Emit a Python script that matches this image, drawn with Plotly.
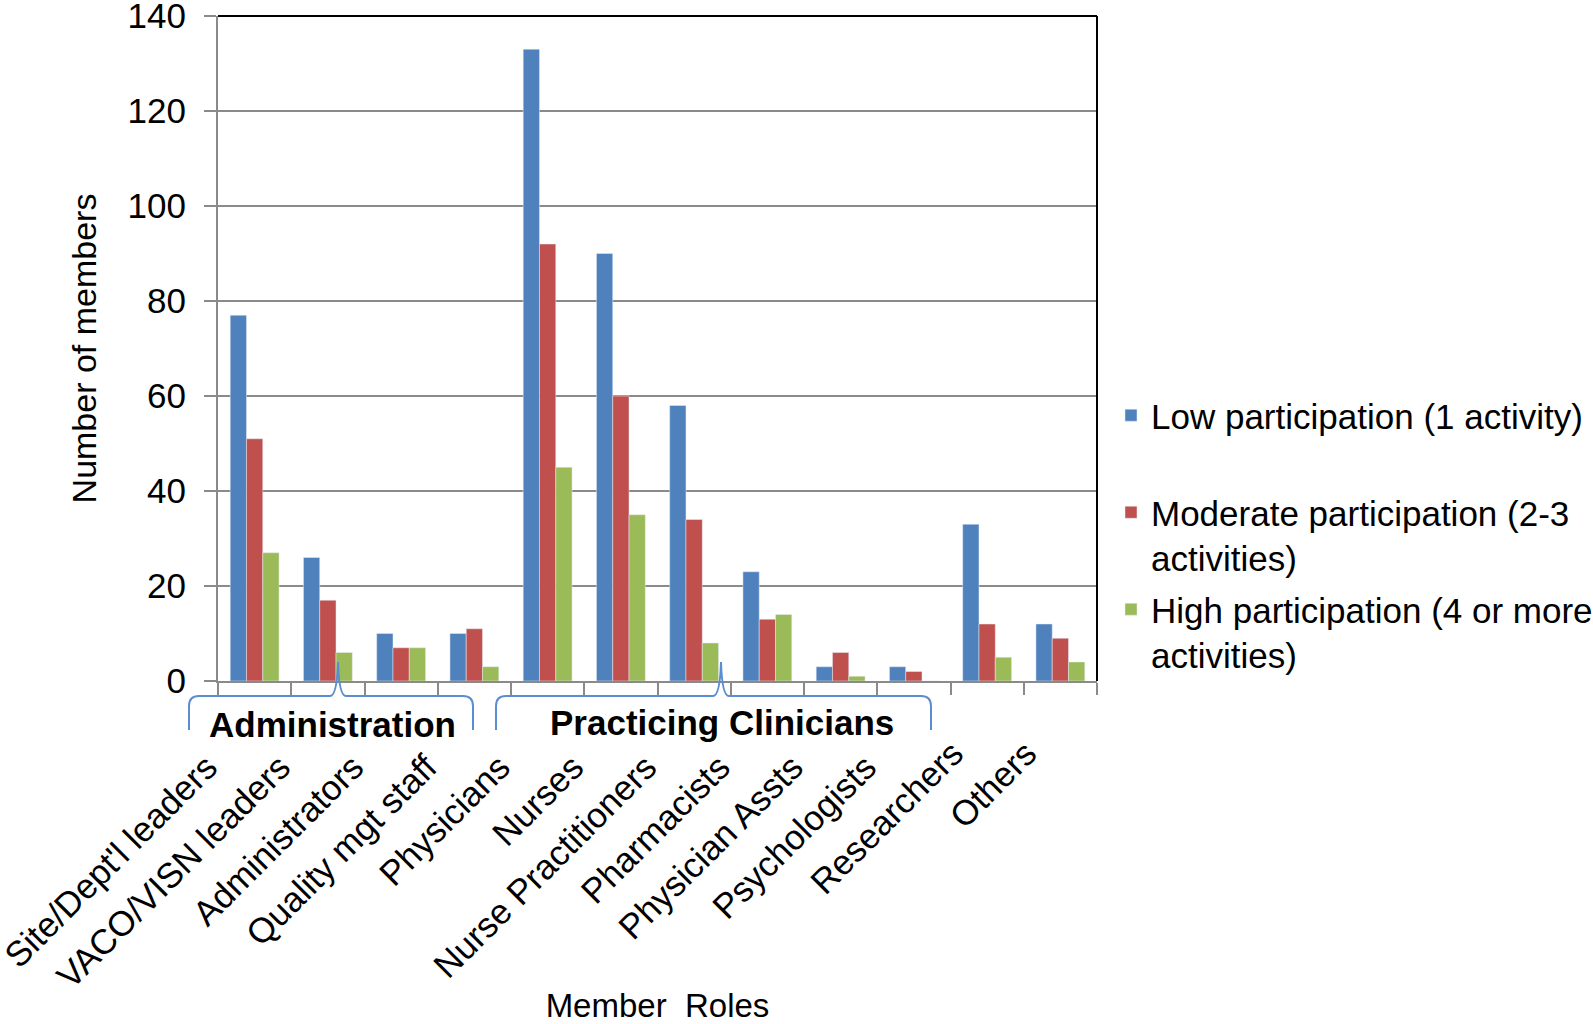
import plotly.graph_objects as go

categories = ["Site/Dept'l leaders", "VACO/VISN leaders", "Administrators", "Quality mgt staff",
              "Physicians", "Nurses", "Nurse Practitioners", "Pharmacists", "Physician Assts",
              "Psychologists", "Researchers", "Others"]
low = [77, 26, 10, 10, 133, 90, 58, 23, 3, 3, 33, 12]
moderate = [51, 17, 7, 11, 92, 60, 34, 13, 6, 2, 12, 9]
high = [27, 6, 7, 3, 45, 35, 8, 14, 1, 0, 5, 4]
series_names = ["Low participation (1 activity)<br>\u00a0",
                "Moderate participation (2-3<br>activities)",
                "High participation (4 or more<br>activities)"]
colors = ["#4F81BD", "#C0504D", "#9BBB59"]
group_labels = ["Administration", "Practicing Clinicians"]
y_ticks = [0, 20, 40, 60, 80, 100, 120, 140]
# the first ten role labels carry trailing padding, as in the original
tick_text = [c + "\u00a0\u00a0" for c in categories[:10]] + categories[10:]

W, H = 1593, 1024
PL, PR, PT, PB = 218, 1097, 16, 681  # plot area in pixels
FONT = "Liberation Sans, Arial, sans-serif"


def px(x):
    return (x - PL) / (PR - PL)


def py(y):
    return (PB - y) / (PB - PT)


def brace_path(x0, x1, xm, ybase=730, ymid=696, ypeak=662, r=10):
    pts = [("M", [(x0, ybase)]), ("L", [(x0, ymid + r)]), ("Q", [(x0, ymid), (x0 + r, ymid)]),
           ("L", [(xm - 8, ymid)]), ("Q", [(xm - 1, ymid), (xm, ypeak)]),
           ("Q", [(xm + 1, ymid), (xm + 8, ymid)]), ("L", [(x1 - r, ymid)]),
           ("Q", [(x1, ymid), (x1, ymid + r)]), ("L", [(x1, ybase)])]
    s = ""
    for cmd, coords in pts:
        s += cmd + " ".join(f"{px(a):.5f},{py(b):.5f}" for a, b in coords) + " "
    return s.strip()


fig = go.Figure()
for name, vals, col in zip(series_names, [low, moderate, high], colors):
    fig.add_trace(go.Bar(x=categories, y=vals, name=name, marker_color=col,
                         legendgroup=name))

fig.update_layout(
    width=W, height=H,
    margin=dict(l=PL, r=W - PR, t=PT, b=H - PB, autoexpand=False),
    paper_bgcolor="white", plot_bgcolor="white",
    font=dict(family=FONT, size=35, color="black"),
    barmode="group", bargap=0.333, bargroupgap=0,
    showlegend=True,
    legend=dict(x=px(1111), xanchor="left", y=py(386), yanchor="top",
                font=dict(size=35), valign="top", tracegroupgap=3,
                bgcolor="rgba(0,0,0,0)"),
    xaxis=dict(type="category", tickson="boundaries", ticks="outside", ticklen=12,
               tickwidth=2, tickcolor="#8a8a8a", showline=True, linecolor="#8a8a8a",
               linewidth=2, tickangle=-45, showgrid=False,
               tickvals=categories, ticktext=tick_text,
               ticklabelstandoff=36, ticklabelshift=-34,
               title=dict(text="Member\u00a0 Roles", standoff=17, font=dict(size=33))),
    yaxis=dict(range=[0, 140], tickvals=y_ticks, ticks="outside", ticklen=12, tickwidth=2,
               tickcolor="#8a8a8a", showline=True, linecolor="#8a8a8a", linewidth=2,
               showgrid=True, gridcolor="#8a8a8a", gridwidth=2, zeroline=False,
               ticklabelstandoff=11, ticklabeloverflow="allow",
               title=dict(text="Number of members", standoff=21, font=dict(size=34))),
)

# top and right frame
fig.add_shape(type="line", xref="paper", yref="paper", x0=0, x1=1, y0=1, y1=1,
              line=dict(color="black", width=2))
fig.add_shape(type="line", xref="paper", yref="paper", x0=1, x1=1, y0=0, y1=1,
              line=dict(color="black", width=2))

# braces for the role groups
for (x0, x1, xm) in [(189, 473, 338), (496, 931, 721)]:
    fig.add_shape(type="path", xref="paper", yref="paper", path=brace_path(x0, x1, xm),
                  line=dict(color="#5B8ED0", width=2))

for text, cx, cy in zip(group_labels, [332, 722], [724, 722]):
    fig.add_annotation(text=f"<b>{text}</b>", xref="paper", yref="paper", x=px(cx), y=py(cy),
                       showarrow=False, font=dict(size=35, color="black"),
                       xanchor="center", yanchor="middle")

# page body margin removed so the figure sits at the window's top-left corner
fig.write_html("out.html", config={"displayModeBar": False},
               post_script="document.body.style.margin='0px';")
